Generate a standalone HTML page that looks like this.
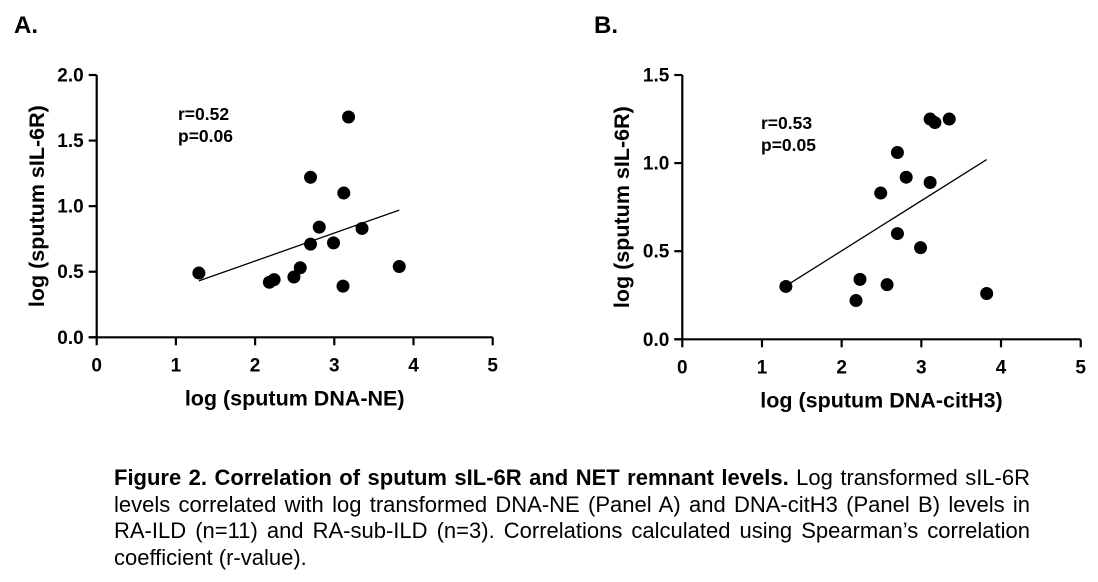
<!DOCTYPE html>
<html><head><meta charset="utf-8"><style>
html,body{margin:0;padding:0;background:#fff;width:1098px;height:582px;overflow:hidden}
svg text{font-family:"Liberation Sans",Arial,sans-serif}
#cap{position:absolute;left:114px;top:465px;width:916px;font-family:"Liberation Sans",Arial,sans-serif;font-size:22px;line-height:26.5px;color:#000}
#cap div{text-align:justify;text-align-last:justify;white-space:nowrap}
#cap div.last{text-align-last:left}
</style></head><body>
<svg id="chart" width="1098" height="582" style="position:absolute;left:0;top:0"></svg>
<div id="cap">
<div><b>Figure 2. Correlation of sputum sIL-6R and NET remnant levels.</b> Log transformed sIL-6R</div>
<div>levels correlated with log transformed DNA-NE (Panel A) and DNA-citH3 (Panel B) levels in</div>
<div>RA-ILD (n=11) and RA-sub-ILD (n=3). Correlations calculated using Spearman’s correlation</div>
<div class="last">coefficient (r-value).</div>
</div>
<script>
const xTicks=[0,1,2,3,4,5];
const yTicksA=[0,0.5,1.0,1.5,2.0];
const yTicksB=[0,0.5,1.0,1.5];
const ax=[1.29,2.18,2.24,2.49,2.57,2.70,2.70,2.81,2.99,3.12,3.11,3.18,3.35,3.82];
const ay=[0.49,0.42,0.44,0.46,0.53,1.22,0.71,0.84,0.72,1.10,0.39,1.68,0.83,0.54];
const aFitX=[1.29,3.82];
const aFitY=[0.43,0.97];
const bx=[1.30,2.18,2.23,2.49,2.57,2.70,2.70,2.81,2.99,3.11,3.11,3.17,3.35,3.82];
const by=[0.30,0.22,0.34,0.83,0.31,1.06,0.60,0.92,0.52,0.89,1.25,1.23,1.25,0.26];
const bFitX=[1.29,3.82];
const bFitY=[0.30,1.02];
const NS='http://www.w3.org/2000/svg';
const svg=document.getElementById('chart');
function mk(tag,attrs,parent){const e=document.createElementNS(NS,tag);for(const k in attrs)e.setAttribute(k,attrs[k]);(parent||svg).appendChild(e);return e;}
function txt(s,attrs,parent){const e=mk('text',attrs,parent);e.textContent=s;return e;}
function panel(cfg){
  const g=mk('g',{});
  
  
  const sx=v=>cfg.x0+(cfg.x1-cfg.x0)*(v-0)/5;
  const sy=v=>cfg.y0-(cfg.y0-cfg.y1)*v/cfg.ymax;
  const lab=txt(cfg.letter,{x:cfg.lx,y:33,'font-size':24,'font-weight':'bold'},g);
  
  
  const ya=mk('line',{x1:cfg.x0,y1:cfg.y0,x2:cfg.x0,y2:sy(cfg.ymax),stroke:'#000','stroke-width':2.2},g);
  
  
  const xa=mk('line',{x1:cfg.x0-8,y1:cfg.y0,x2:cfg.x1,y2:cfg.y0,stroke:'#000','stroke-width':2.2},g);
  
  
  cfg.yt.forEach(v=>{
    mk('line',{x1:cfg.x0-8,y1:sy(v),x2:cfg.x0,y2:sy(v),stroke:'#000','stroke-width':2.2},g);
    const t=txt(v.toFixed(1),{x:cfg.x0-13,y:sy(v)+6.5,'font-size':19,'font-weight':'bold','text-anchor':'end'},g);
    
    
  });
  xTicks.forEach(v=>{
    mk('line',{x1:sx(v),y1:cfg.y0,x2:sx(v),y2:cfg.y0+8,stroke:'#000','stroke-width':2.2},g);
    const t=txt(String(v),{x:sx(v),y:cfg.y0+34,'font-size':19,'font-weight':'bold','text-anchor':'middle'},g);
    
    
  });
  const yt=txt('log (sputum sIL-6R)',{x:0,y:0,'font-size':21.5,'font-weight':'bold','text-anchor':'middle',transform:`translate(${cfg.ytx},${(cfg.y0+sy(cfg.ymax))/2}) rotate(-90)`},g);
  
  
  const xt=txt(cfg.xtitle,{x:(cfg.x0+cfg.x1)/2,y:cfg.y0+68,'font-size':21.5,'font-weight':'bold','text-anchor':'middle'},g);
  
  
  const fit=mk('line',{x1:sx(cfg.fx[0]),y1:sy(cfg.fy[0]),x2:sx(cfg.fx[1]),y2:sy(cfg.fy[1]),stroke:'#000','stroke-width':1.3},g);
  
  
  cfg.px.forEach((v,i)=>{
    const c=mk('circle',{cx:sx(v),cy:sy(cfg.py[i]),r:6.5,fill:'#000'},g);
    
    
  });
  const r=txt(cfg.r,{x:cfg.ax,y:cfg.ay,'font-size':17.5,'font-weight':'bold'},g);
  
  
  const p=txt(cfg.p,{x:cfg.ax,y:cfg.ay+22,'font-size':17.5,'font-weight':'bold'},g);
  
  
}
panel({name:'panel-a',letter:'A.',lx:14,x0:96.7,x1:492.7,y0:337.3,y1:75,ymax:2.0,yt:yTicksA,ytx:44,xtitle:'log (sputum DNA-NE)',px:ax,py:ay,fx:aFitX,fy:aFitY,r:'r=0.52',p:'p=0.06',ax:178,ay:120});
panel({name:'panel-b',letter:'B.',lx:594,x0:682.3,x1:1080.7,y0:339.3,y1:75,ymax:1.5,yt:yTicksB,ytx:629,xtitle:'log (sputum DNA-citH3)',px:bx,py:by,fx:bFitX,fy:bFitY,r:'r=0.53',p:'p=0.05',ax:761,ay:129});
</script>
</body></html>
